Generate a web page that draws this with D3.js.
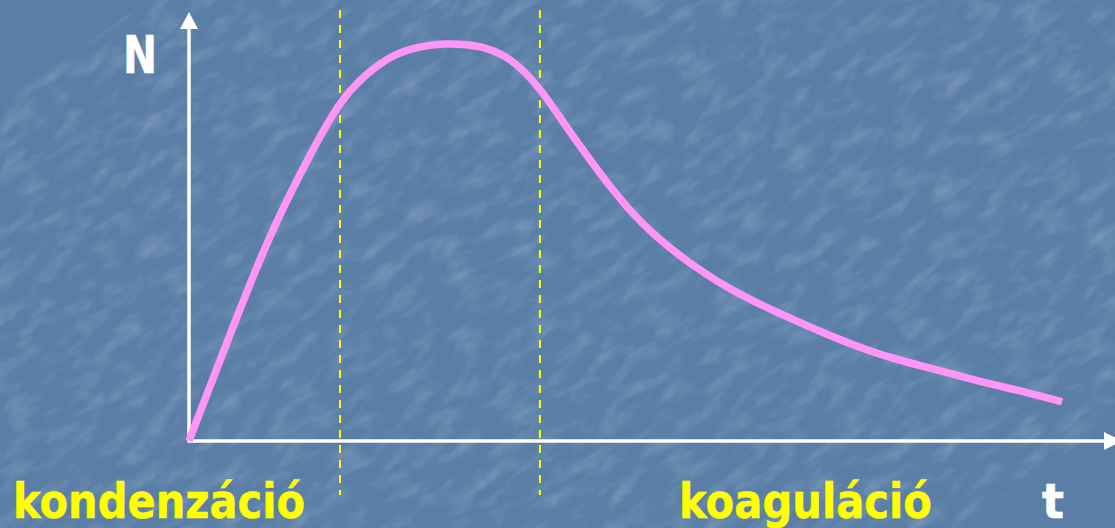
<!DOCTYPE html>
<html>
<head>
<meta charset="utf-8">
<script src="https://cdn.jsdelivr.net/npm/d3@7"></script>
<style>
  html, body { margin: 0; padding: 0; background: #5a7ea6; overflow: hidden; }
  svg { display: block; }
</style>
</head>
<body>
<svg id="abra"></svg>
<script>
// idő (t) és részecskeszám (N), 0..100 relatív egységben
const ido = [0, 4.2, 8.5, 12.1, 15.0, 17.3, 21.0, 24.0, 27.8, 31.6, 34.9, 38.1, 41.4, 45.7, 49.0, 53.3, 58.7, 64.2, 69.6, 75.0, 80.5, 85.9, 91.3, 94.8];
const szam = [0, 23.5, 46.9, 62.5, 74.1, 81.8, 88.8, 91.6, 92.8, 92.3, 89.5, 82.5, 71.8, 59.2, 50.8, 42.9, 35.2, 29.6, 24.5, 20.0, 17.0, 13.8, 11.2, 9.1];
const hatarok = [16.4, 38.1];
const tengelyNevek = ["N", "t"];
const szakaszNevek = ["kondenzáció", "koaguláció"];

const width = 1115, height = 528;
const svg = d3.select("#abra").attr("width", width).attr("height", height);

const x = d3.scaleLinear().domain([0, 100]).range([189, 1110]);
const y = d3.scaleLinear().domain([0, 100]).range([441, 12]);

// háttér textúra
const defs = svg.append("defs");
const f = defs.append("filter").attr("id", "zaj").attr("x", 0).attr("y", 0).attr("width", "100%").attr("height", "100%");
f.append("feTurbulence").attr("type", "fractalNoise").attr("baseFrequency", "0.05 0.12").attr("numOctaves", 3).attr("seed", 7);
f.append("feColorMatrix").attr("type", "matrix")
    .attr("values", "0 0 0 0 0.62  0 0 0 0 0.72  0 0 0 0 0.85  0 0 0 1.6 -0.7");
svg.append("rect").attr("width", width).attr("height", height).attr("fill", "#5a7ea6");
svg.append("rect").attr("width", width).attr("height", height).attr("filter", "url(#zaj)").attr("opacity", 0.3)
    .attr("transform", "rotate(-35 557 264) scale(1.7) translate(-230 -110)");

const g = svg.append("g");

// szaggatott határvonalak
g.selectAll(".hatar")
    .data(hatarok)
    .join("line")
    .attr("x1", d => x(d)).attr("x2", d => x(d))
    .attr("y1", 10).attr("y2", 495)
    .attr("stroke", "#ffff00")
    .attr("stroke-width", 2)
    .attr("stroke-dasharray", "8 7");

// tengelyek
g.append("line")
    .attr("x1", x(0)).attr("x2", x(0))
    .attr("y1", y(0) + 1.5).attr("y2", 26)
    .attr("stroke", "#fff").attr("stroke-width", 3.5);
g.append("path")
    .attr("d", `M${x(0)},12 L${x(0) - 9},29 L${x(0) + 9},29 Z`)
    .attr("fill", "#fff");
g.append("line")
    .attr("x1", x(0)).attr("x2", 1106)
    .attr("y1", y(0)).attr("y2", y(0))
    .attr("stroke", "#fff").attr("stroke-width", 3.5);
g.append("path")
    .attr("d", `M1122,${y(0)} L1104,${y(0) - 9} L1104,${y(0) + 9} Z`)
    .attr("fill", "#fff");

// görbe
const vonal = d3.line()
    .x((d, i) => x(ido[i]))
    .y(d => y(d))
    .curve(d3.curveBasis);

g.append("path")
    .datum(szam)
    .attr("d", vonal)
    .attr("fill", "none")
    .attr("stroke", "#ff96f7")
    .attr("stroke-width", 7.5);

// feliratok
const betu = "'DejaVu Sans', Verdana, sans-serif";
g.append("text").text(tengelyNevek[0])
    .attr("x", 123).attr("y", 73)
    .attr("font-family", betu).attr("font-weight", "bold").attr("font-size", 52)
    .attr("textLength", 34).attr("lengthAdjust", "spacingAndGlyphs")
    .attr("fill", "#fff").attr("stroke", "#fff").attr("stroke-width", 0.6);
g.append("text").text(tengelyNevek[1])
    .attr("x", 1042).attr("y", 518)
    .attr("font-family", betu).attr("font-weight", "bold").attr("font-size", 48)
    .attr("textLength", 22).attr("lengthAdjust", "spacingAndGlyphs")
    .attr("fill", "#fff").attr("stroke", "#fff").attr("stroke-width", 0.6);

g.selectAll(".szakasz")
    .data(szakaszNevek)
    .join("text")
    .attr("class", "szakasz")
    .text(d => d)
    .attr("x", (d, i) => i === 0 ? 13 : 679)
    .attr("y", 518)
    .attr("font-family", betu).attr("font-weight", "bold").attr("font-size", 48)
    .attr("textLength", (d, i) => i === 0 ? 292 : 253)
    .attr("lengthAdjust", "spacingAndGlyphs")
    .attr("fill", "#ffff00").attr("stroke", "#ffff00").attr("stroke-width", 0.5);
</script>
</body>
</html>
